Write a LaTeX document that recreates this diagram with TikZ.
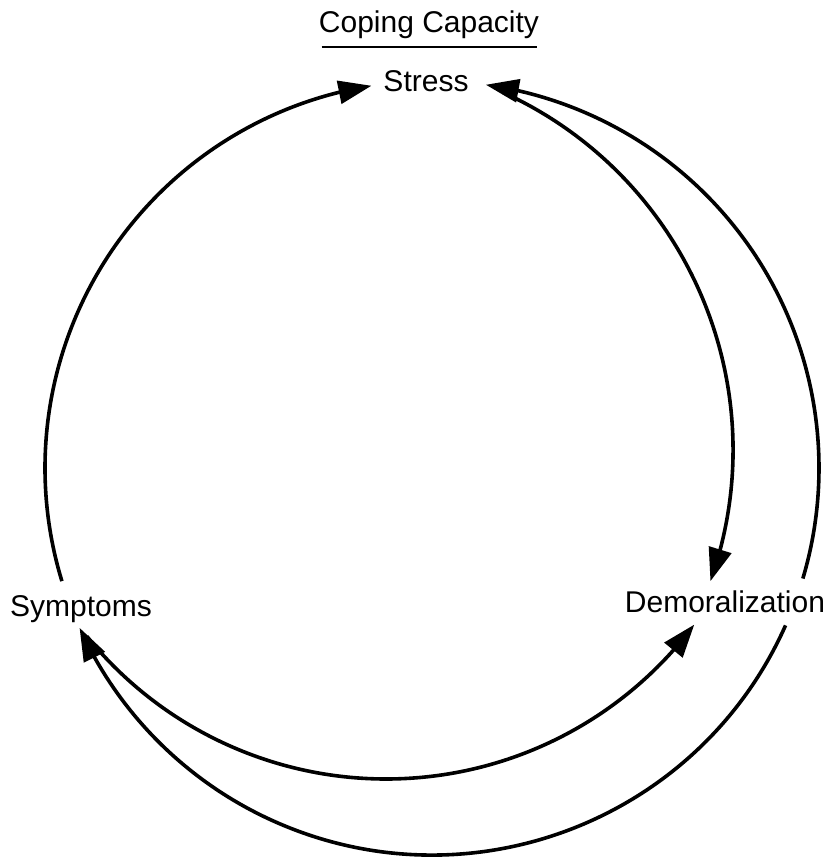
\documentclass[tikz,border=0pt]{standalone}
\usepackage{fontspec}
\setmainfont{Liberation Sans}
\usetikzlibrary{arrows.meta,bending,calc}
\begin{document}
\begin{tikzpicture}[x=1pt,y=1pt,
  lbl/.style={anchor=base,inner sep=0pt,font=\fontsize{30}{36}\selectfont},
  conn/.style={line width=3.6pt,-{Triangle[length=33pt,width=23pt]}},
  plain/.style={line width=3.6pt}]
\useasboundingbox[fill=white] (0,0) rectangle (833,866);
% labels
\node[lbl] (coping) at (429,833) {Coping Capacity};
\node[lbl] (stress) at (426,774) {Stress};
\node[lbl] (symptoms) at (81,249) {Symptoms};
\node[lbl] (demor) at (725,253) {Demoralization};
\draw[line width=2.2pt] (coping.base west) ++(3,-14) coordinate (ul1) -- ($(coping.base east)+(-2,-14)$) coordinate (ul2);
% circle centres
\coordinate (oc) at (432,398);
\coordinate (ic) at (340,416);
\coordinate (bc) at (386,472);
% Symptoms -> Stress (outer left arc)
\coordinate (sympTop) at ($(oc)+(197:387)$);
\draw[conn] (sympTop) arc[start angle=197,end angle=99,radius=387];
% Demoralization -> Stress (outer right arc)
\coordinate (demTop) at ($(oc)+(-16.6:387)$);
\draw[conn] (demTop) arc[start angle=-16.6,end angle=82,radius=387];
% Demoralization -> Symptoms (outer bottom arc)
\coordinate (demBot) at ($(oc)+(-24:387)$);
\draw[conn] (demBot) arc[start angle=-24,end angle=-155.6,radius=387];
% Stress -> Demoralization (inner right arc)
\coordinate (stressR) at ($(ic)+(65.5:393)$);
\draw[conn] (stressR) arc[start angle=65.5,end angle=-19.5,radius=393];
% Symptoms -> Demoralization (inner bottom arc)
\coordinate (sympBot) at ($(bc)+(-141:385)$);
\draw[conn] (sympBot) arc[start angle=-141,end angle=-36.8,radius=385];
\end{tikzpicture}
\end{document}
